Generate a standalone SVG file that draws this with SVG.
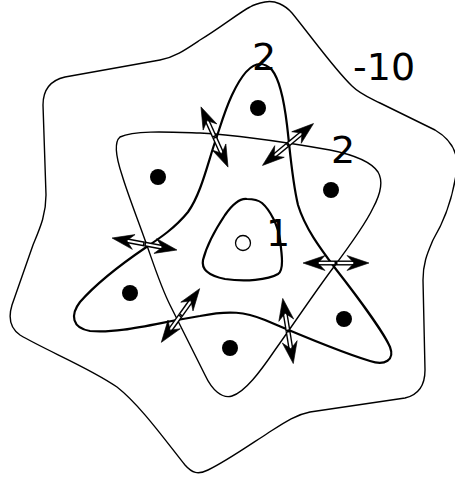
<svg xmlns="http://www.w3.org/2000/svg" xmlns:xlink="http://www.w3.org/1999/xlink" width="455" height="481" viewBox="0 0 455 481">
<style>
.curve{fill:none;stroke:#000;stroke-linejoin:round}
.thin{stroke-width:1.4}
.thick{stroke-width:2.2}
.dot{fill:#000}
.lbl{font-family:"DejaVu Sans",sans-serif;font-size:38px;fill:#000}
</style>
<defs>
<g id="arr">
<path d="M0,0 H19" stroke="#000" stroke-width="5" fill="none"/>
<path d="M1.5,0 H19" stroke="#fff" stroke-width="2.2" fill="none"/>
<path d="M33,0 L11,-7.5 L18,0 L11,7.5 Z" fill="#000" stroke="#000" stroke-width="0.6" stroke-linejoin="miter"/>
</g>
</defs>
<rect width="455" height="481" fill="#fff"/>
<g id="outer">
<path class="curve thin" d="M265,2 C275,0 285,5 292,13 C310,35 335,70 352,86 C360,94 368,97 380,103 L435,130 C452,140 460,155 456,175 C452,200 445,220 433,240 C428,252 423,262 423,280 L425,370 C425,385 418,395 405,398 L310,412 C295,415 285,422 268,433 C245,448 225,462 208,470 C198,475 192,473 185,465 C165,440 140,405 117,387 C90,368 45,350 20,335 C10,328 8,318 12,305 L33,245 C40,228 46,215 46,195 L43,105 C43,88 52,80 65,77 L160,60 C175,57 185,50 200,40 C220,28 240,12 250,7 C255,4 260,3 265,2 Z"/>
</g>
<g id="starA">
<path class="curve thick" d="M260,64 C250,64 240,78 232,95 C224,112 220,128 214,145 C206,170 200,195 188,212 C175,228 160,238 145,248 C120,265 95,285 80,302 C70,315 72,328 90,331 C120,334 160,322 200,316 C230,310 245,312 265,320 C300,335 340,352 370,361 C385,366 395,360 390,347 C385,335 360,300 335,268 C320,248 305,228 298,205 C292,180 290,150 287,125 C284,100 280,80 272,70 C268,66 264,64 260,64 Z"/>
</g>
<g id="starB">
<path class="curve thin" d="M120,137 C135,130 170,132 200,133 C240,135 290,143 330,150 C350,154 370,160 378,172 C384,182 380,195 373,208 C365,225 345,252 333,268 C315,292 295,322 275,350 C260,372 245,392 232,396 C222,399 212,390 205,375 C195,355 180,325 170,305 C160,285 153,262 145,240 C138,220 128,195 122,175 C117,160 113,143 120,137 Z"/>
</g>
<g id="inner">
<path class="curve thick" d="M247,199 C240,198 232,205 225,215 C215,230 206,248 203,260 C201,270 210,276 225,279 C245,282 268,280 278,274 C284,270 282,255 280,240 C278,225 270,210 262,203 C257,199 252,199 247,199 Z"/>
</g>
<g id="dots">
<circle class="dot" cx="258" cy="108" r="8"/>
<circle class="dot" cx="158" cy="177" r="8"/>
<circle class="dot" cx="331" cy="190" r="8"/>
<circle class="dot" cx="130" cy="293" r="8"/>
<circle class="dot" cx="344" cy="319" r="8"/>
<circle class="dot" cx="230" cy="348" r="8"/>
<circle cx="243" cy="243" r="7.5" fill="#fff" stroke="#000" stroke-width="1.3"/>
</g>
<g id="connectors">
<use xlink:href="#arr" transform="translate(214.5,137) rotate(-114.2)"/>
<use xlink:href="#arr" transform="translate(214.5,137) rotate(65.8)"/>
<use xlink:href="#arr" transform="translate(288,144.5) rotate(-39.4)"/>
<use xlink:href="#arr" transform="translate(288,144.5) rotate(140.6)"/>
<use xlink:href="#arr" transform="translate(144.5,244) rotate(10.5)"/>
<use xlink:href="#arr" transform="translate(144.5,244) rotate(190.5)"/>
<use xlink:href="#arr" transform="translate(336,263) rotate(0)"/>
<use xlink:href="#arr" transform="translate(336,263) rotate(180)"/>
<use xlink:href="#arr" transform="translate(180.5,315.5) rotate(-54.5)"/>
<use xlink:href="#arr" transform="translate(180.5,315.5) rotate(125.5)"/>
<use xlink:href="#arr" transform="translate(288,331) rotate(-99.2)"/>
<use xlink:href="#arr" transform="translate(288,331) rotate(80.8)"/>
</g>
<g id="labels">
<text class="lbl" x="264" y="70" text-anchor="middle">2</text>
<text class="lbl" x="353" y="80">-10</text>
<text class="lbl" x="343" y="163" text-anchor="middle">2</text>
<text class="lbl" x="278" y="246" text-anchor="middle">1</text>
</g>
</svg>
